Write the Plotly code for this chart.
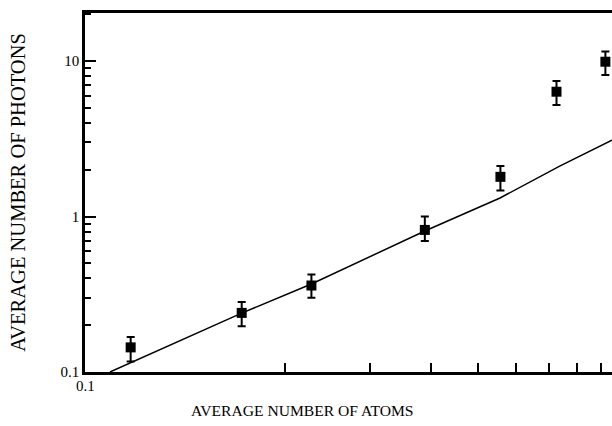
import plotly.graph_objects as go

# measured data
atoms = [0.0962, 0.163, 0.227, 0.389, 0.557, 0.727, 0.917]
photons = [0.144, 0.24, 0.36, 0.82, 1.80, 6.35, 9.9]
err_hi = [0.168, 0.282, 0.424, 1.0, 2.11, 7.43, 11.5]
err_lo = [0.117, 0.197, 0.30, 0.697, 1.47, 5.21, 8.13]

# theory curve
curve_x = [0.0872, 0.163, 0.227, 0.389, 0.556, 0.738, 0.946]
curve_y = [0.1, 0.239, 0.368, 0.807, 1.315, 2.11, 3.1]

x_minor_ticks = [0.2, 0.3, 0.4, 0.5, 0.6, 0.7, 0.8, 0.9]
y_major_ticks = [0.1, 1, 10]
y_major_text = ["0.1", "1", "10"]
y_minor_ticks = [0.2, 0.3, 0.4, 0.5, 0.6, 0.7, 0.8, 0.9, 2, 3, 4, 5, 6, 7, 8, 9, 20]

plus = [h - p for h, p in zip(err_hi, photons)]
minus = [p - l for p, l in zip(photons, err_lo)]

FF = "'Liberation Serif', 'Times New Roman', Times, serif"

fig = go.Figure()
fig.add_trace(go.Scatter(
    x=curve_x, y=curve_y, mode="lines",
    line=dict(color="black", width=1.5), showlegend=False))
fig.add_trace(go.Scatter(
    x=atoms, y=photons, mode="markers",
    marker=dict(symbol="square", size=10, color="black"),
    error_y=dict(type="data", symmetric=False, array=plus, arrayminus=minus,
                 color="black", thickness=2, width=4),
    showlegend=False))

fig.update_layout(
    width=612, height=426,
    margin=dict(l=85, r=0, t=13, b=54),
    paper_bgcolor="white", plot_bgcolor="white",
    font=dict(family=FF, color="black"),
    xaxis=dict(
        type="log", range=[-1.111, -0.024], automargin=False,
        showline=True, linecolor="black", linewidth=2.5, mirror=True,
        showgrid=False, zeroline=False,
        tickmode="array", tickvals=x_minor_ticks, ticks="inside",
        ticklen=9, tickwidth=2, tickcolor="black", showticklabels=False,
    ),
    yaxis=dict(
        type="log", range=[-1, 1.309], automargin=False,
        showline=True, linecolor="black", linewidth=2.5, mirror=False,
        showgrid=False, zeroline=False,
        tickmode="array", tickvals=y_major_ticks, ticktext=y_major_text,
        ticks="inside", ticklen=11, tickwidth=2, tickcolor="black",
        tickfont=dict(family=FF, size=15),
        minor=dict(tickmode="array", tickvals=y_minor_ticks, ticks="inside",
                   ticklen=6, tickwidth=2, tickcolor="black", showgrid=False),
        title=dict(text="AVERAGE NUMBER OF PHOTONS",
                   font=dict(family=FF, size=20.5), standoff=30),
    ),
)

# x-axis title (centred as in the reference, left of plot centre)
fig.add_annotation(xref="paper", yref="paper", x=0.412, y=0, yshift=-38,
                   text="AVERAGE NUMBER OF ATOMS", showarrow=False,
                   font=dict(family=FF, size=15.6),
                   xanchor="center", yanchor="middle")

fig.add_annotation(xref="paper", yref="paper", x=0, y=0, yshift=-14,
                   text="0.1", showarrow=False, font=dict(family=FF, size=15),
                   xanchor="center", yanchor="middle")

fig.write_html("out.html", config={"displayModeBar": False},
               post_script="document.body.style.margin='0';document.body.style.overflow='hidden';")
